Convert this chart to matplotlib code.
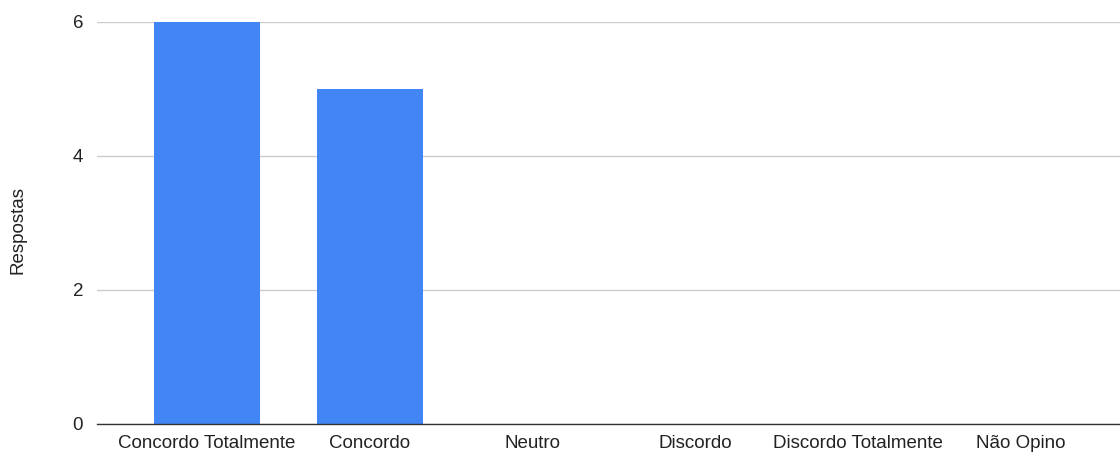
import matplotlib

matplotlib.use("Agg")
import matplotlib.pyplot as plt
import numpy as np

# Data
categories = ["Concordo Totalmente", "Concordo", "Neutro", "Discordo",
              "Discordo Totalmente", "Não Opino"]
respostas = [6, 5, 0, 0, 0, 0]
y_ticks = [0, 2, 4, 6]

BAR_COLOR = "#4285F4"

plt.rcParams["font.family"] = ["Liberation Sans", "DejaVu Sans"]

fig = plt.figure(figsize=(11.2, 4.53), dpi=100)
ax = fig.add_axes([97 / 1120, 1 - 424 / 453, 1 - 97 / 1120, (424 - 22) / 453])

x = np.arange(len(categories))
ax.bar(x, respostas, width=0.65, color=BAR_COLOR, zorder=2)

ax.set_xlim(-0.675, 5.61)
ax.set_ylim(0, 6)
ax.set_yticks(y_ticks)
ax.set_yticklabels([str(t) for t in y_ticks], fontsize=13.5)
ax.set_xticks(x)
ax.set_xticklabels(categories, fontsize=13.5)
ax.tick_params(axis="both", length=0, colors="#222222")
ax.tick_params(axis="y", pad=10)
ax.tick_params(axis="x", pad=8)

ax.yaxis.grid(True, color="#cccccc", linewidth=1.0, zorder=0)
ax.xaxis.grid(False)
for side in ["top", "right", "left"]:
    ax.spines[side].set_visible(False)
ax.spines["bottom"].set_color("#333333")
ax.spines["bottom"].set_linewidth(1.0)
ax.spines["bottom"].set_zorder(3)

fig.text(18 / 1120, 1 - 230 / 453, "Respostas", rotation=90, fontsize=13.5,
         ha="center", va="center", color="#222222")

fig.savefig("out.png", dpi=100)
